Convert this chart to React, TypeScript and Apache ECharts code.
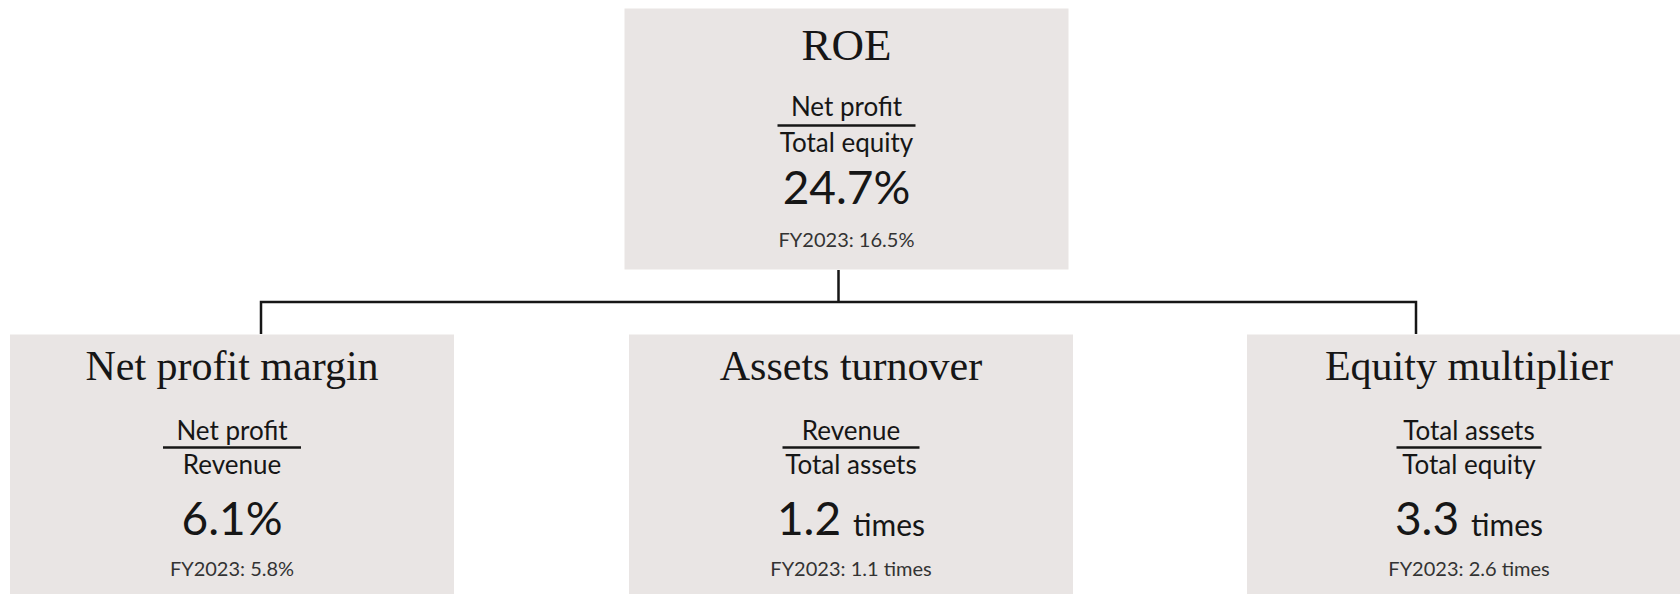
import React, { useEffect, useRef } from "react";
import * as echarts from "echarts";

// ---- data ----
const metricNames = ["ROE", "Net profit margin", "Assets turnover", "Equity multiplier"];
const numerators = ["Net profit", "Net profit", "Revenue", "Total assets"];
const denominators = ["Total equity", "Revenue", "Total assets", "Total equity"];
const currentValues = [24.7, 6.1, 1.2, 3.3];
const priorValues = [16.5, 5.8, 1.1, 2.6];
const valueUnits = ["%", "%", "times", "times"];
const priorLabel = "FY2023";
// index of root and of the children hanging from the connector fork
const rootIndex = 0;
const forkChildren = [1, 3];
const centreChild = 2;

// ---- styling ----
const BOX_COLOR = "#e9e5e4";
const INK = "#161616";
const SERIF = "'Liberation Serif', serif";
const SANS = "Lato, 'Noto Sans', sans-serif";
const BOX_WIDTH = 444;
const dividerWidths = [138, 138, 137, 145];
const boxOffsets = [8, -29, 12.5, 53];

const rootLayout = { pt: 12, title: 48, gap: 21, num: 33, hr: 6, den: 26, val: 64, fy: 41, pb: 10, titleSize: 45 };
const leafLayout = { pt: 7, title: 48, gap: 25, num: 30, hr: 6, den: 26, val: 82, fy: 18, pb: 60, titleSize: 42 };

function fmtValue(v: number, unit: string) {
  return unit === "%" ? `${v.toFixed(1)}%` : `${v.toFixed(1)} ${unit}`;
}

function cardLabel(i: number, isRoot: boolean) {
  const L = isRoot ? rootLayout : leafLayout;
  const valueLine =
    valueUnits[i] === "%"
      ? `{val|${currentValues[i].toFixed(1)}%}`
      : `{val|${currentValues[i].toFixed(1)}}{unit|${valueUnits[i]}}`;
  const formatter = [
    `{title|${metricNames[i]}}`,
    `{gap|}`,
    `{num|${numerators[i]}}`,
    `{hr|}`,
    `{den|${denominators[i]}}`,
    valueLine,
    `{fy|${priorLabel}: ${fmtValue(priorValues[i], valueUnits[i])}}`,
  ].join("\n");
  return {
    show: true,
    position: isRoot ? "top" : "bottom",
    distance: 0,
    offset: [boxOffsets[i], 0],
    formatter,
    width: BOX_WIDTH,
    overflow: "none",
    backgroundColor: BOX_COLOR,
    padding: [L.pt, 0, L.pb, 0],
    align: "center",
    rich: {
      title: { fontFamily: SERIF, fontSize: L.titleSize, lineHeight: L.title, color: INK, align: "center" },
      gap: { height: L.gap, lineHeight: L.gap, align: "center" },
      num: { fontFamily: SANS, fontSize: 26, lineHeight: L.num, color: INK, align: "center" },
      hr: { width: dividerWidths[i], height: 2.5, lineHeight: L.hr, backgroundColor: INK, align: "center" },
      den: { fontFamily: SANS, fontSize: 26, lineHeight: L.den, color: INK, align: "center" },
      val: { fontFamily: SANS, fontSize: 46, lineHeight: L.val, color: INK, align: "center" },
      unit: { fontFamily: SANS, fontSize: 30, lineHeight: L.val, color: INK, align: "center", padding: [12, 0, 0, 12] },
      fy: { fontFamily: SANS, fontSize: 20, lineHeight: L.fy, color: "#333333", align: "center" },
    },
  };
}

function node(i: number, isRoot: boolean, children?: any[]) {
  return { name: metricNames[i], value: currentValues[i], label: cardLabel(i, isRoot), children };
}

// tree geometry (connector nodes)
const TREE_LEFT = -316.5;
const TREE_WIDTH = 2310;
const TREE_TOP = 270;
const TREE_HEIGHT = 64;

const common = {
  type: "tree",
  orient: "TB",
  layout: "orthogonal",
  left: TREE_LEFT,
  width: TREE_WIDTH,
  symbol: "circle",
  symbolSize: 1,
  itemStyle: { color: "rgba(0,0,0,0)", borderWidth: 0 },
  expandAndCollapse: false,
  initialTreeDepth: -1,
  roam: false,
  silent: true,
  emphasis: { disabled: true },
  edgeShape: "polyline",
  edgeForkPosition: "50%",
  lineStyle: { color: INK, width: 2.5, curveness: 0 },
};

export default function App() {
  const ref = useRef<HTMLDivElement>(null);
  useEffect(() => {
    if (!ref.current) return;
    const chart = echarts.init(ref.current, undefined, { renderer: "svg" });
    chart.setOption({
      animation: false,
      backgroundColor: "#ffffff",
      series: [
        {
          ...common,
          top: TREE_TOP,
          height: TREE_HEIGHT,
          data: [node(rootIndex, true, forkChildren.map((c) => node(c, false)))],
        },
        {
          ...common,
          top: TREE_TOP + TREE_HEIGHT,
          height: TREE_HEIGHT,
          data: [node(centreChild, false)],
        },
      ],
    } as any);
    return () => chart.dispose();
  }, []);
  return (
    <div
      ref={ref}
      style={{ position: "absolute", left: 0, top: 0, width: 1680, height: 594, background: "#fff" }}
    />
  );
}
